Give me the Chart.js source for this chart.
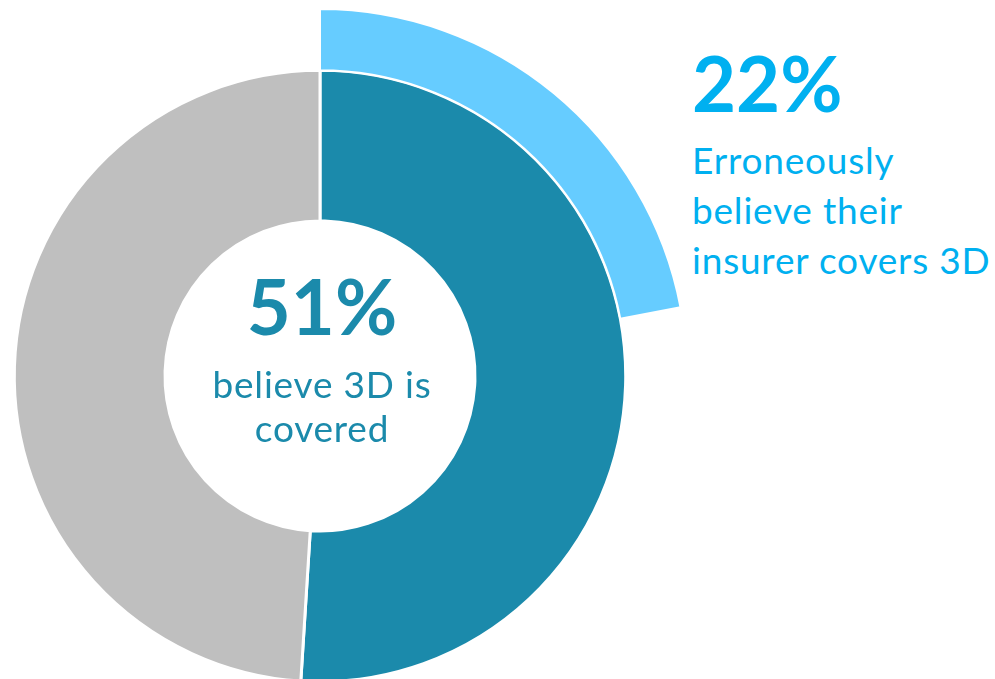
<!DOCTYPE html>
<html>
<head>
<meta charset="utf-8">
<script src="https://cdn.jsdelivr.net/npm/chart.js@4"></script>
<style>
  html, body { margin: 0; padding: 0; background: #fff; }
  body { width: 995px; height: 679px; overflow: hidden; position: relative; font-family: Lato, "Open Sans", sans-serif; }
  #wrap { position: absolute; left: -48px; top: 8px; width: 736px; height: 736px; }
  .txt { position: absolute; white-space: nowrap; }
  .big { font-weight: 700; font-size: 76px; line-height: 76px; }
  .line { font-size: 37px; line-height: 50px; letter-spacing: 0.8px; }
  .center { left: 172px; width: 300px; text-align: center; color: #1B8AAB; }
  .side { left: 692px; color: #00B0F0; }
</style>
</head>
<body>
<div id="wrap"><canvas id="donut" width="736" height="736"></canvas></div>

<div class="txt center big" style="top: 268px;">51%</div>
<div class="txt center line" style="top: 359px;">believe 3D is</div>
<div class="txt center line" style="top: 403px;">covered</div>

<div class="txt side big" style="top: 45px;">22%</div>
<div class="txt side line" style="top: 135px;">Erroneously</div>
<div class="txt side line" style="top: 185px;">believe their</div>
<div class="txt side line" style="top: 235px;">insurer covers 3D</div>

<script>
// share of respondents, percent
const coveredLabels = ['Believe 3D is covered', 'Other'];
const coveredValues = [51, 49];
const erroneousLabels = ['Erroneously believe insurer covers 3D', 'Rest'];
const erroneousValues = [22, 78];

const ctx = document.getElementById('donut').getContext('2d');

new Chart(ctx, {
    type: 'doughnut',
    data: {
        labels: coveredLabels,
        datasets: [
            {
                // thin outer ring, only the first slice is visible
                label: 'Erroneous',
                data: erroneousValues,
                backgroundColor: ['#66CCFF', 'rgba(0,0,0,0)'],
                borderColor: '#ffffff',
                borderWidth: [2, 0],
                weight: 61,
            },
            {
                label: 'Covered',
                data: coveredValues,
                backgroundColor: ['#1B8AAB', '#BFBFBF'],
                borderColor: '#ffffff',
                borderWidth: 3,
                weight: 150,
            },
        ],
    },
    options: {
        responsive: false,
        animation: false,
        cutout: 155,
        layout: { padding: 0 },
        plugins: {
            legend: { display: false },
            tooltip: { enabled: false },
        },
    },
});
</script>
</body>
</html>
